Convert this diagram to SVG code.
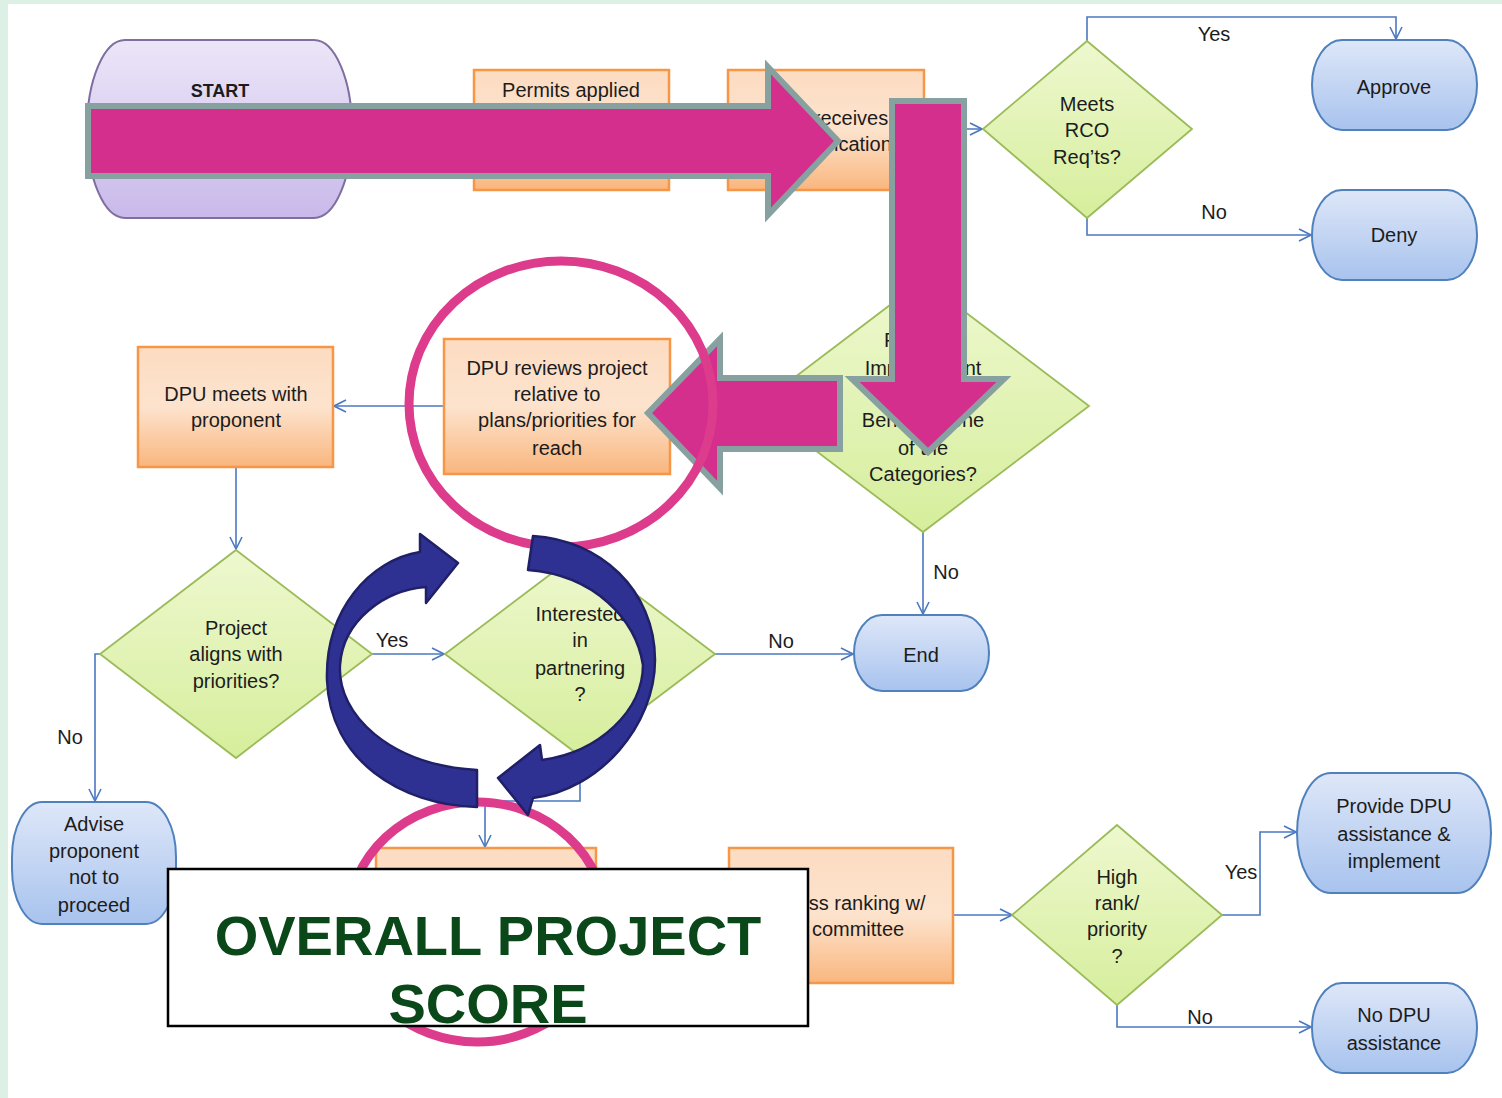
<svg xmlns="http://www.w3.org/2000/svg" width="1502" height="1098" viewBox="0 0 1502 1098">
  <defs>
    <linearGradient id="gOr" x1="0" y1="0" x2="0" y2="1">
      <stop offset="0" stop-color="#fcdcc2"/>
      <stop offset="0.5" stop-color="#fde3cd"/>
      <stop offset="1" stop-color="#f9b67e"/>
    </linearGradient>
    <linearGradient id="gGr" x1="0" y1="0" x2="0" y2="1">
      <stop offset="0" stop-color="#eef8cf"/>
      <stop offset="1" stop-color="#d6ee9c"/>
    </linearGradient>
    <linearGradient id="gBl" x1="0" y1="0" x2="0" y2="1">
      <stop offset="0" stop-color="#dee7f8"/>
      <stop offset="1" stop-color="#a8c3ee"/>
    </linearGradient>
    <linearGradient id="gLv" x1="0" y1="0" x2="0" y2="1">
      <stop offset="0" stop-color="#ece6f8"/>
      <stop offset="1" stop-color="#c9b9ea"/>
    </linearGradient>
    <marker id="arr" viewBox="0 0 14 14" refX="13" refY="7" markerWidth="14" markerHeight="14" markerUnits="userSpaceOnUse" orient="auto">
      <path d="M1,1 L13,7 L1,13" fill="none" stroke="#4a78c0" stroke-width="1.6"/>
    </marker>
  </defs>
  <style>
    .t{font-family:"Liberation Sans",Arial,sans-serif;font-size:20px;fill:#1c1c1c;text-anchor:middle}
    .box{fill:url(#gOr);stroke:#f79646;stroke-width:2.5}
    .dia{fill:url(#gGr);stroke:#9bbb59;stroke-width:1.8}
    .term{fill:url(#gBl);stroke:#4f81bd;stroke-width:2}
    .con{fill:none;stroke:#4a78c0;stroke-width:1.6}
    .pk{fill:#d42f8c;stroke:#87a1a1;stroke-width:6;stroke-linejoin:miter}
    .ring{fill:none;stroke:#dd3c8d;stroke-width:9}
    .cyc{fill:#2f3192;stroke:#1f2068;stroke-width:2.5;stroke-linejoin:round}
    .big{font-family:"Liberation Sans",Arial,sans-serif;font-weight:bold;font-size:56px;fill:#0a4719;text-anchor:middle}
  </style>

  <!-- page -->
  <rect x="0" y="0" width="1502" height="1098" fill="#ddf0e6"/>
  <rect x="8" y="4" width="1494" height="1094" fill="#ffffff"/>

  <!-- connectors -->
  <g id="connectors">
    <path class="con" d="M924,129 H982" marker-end="url(#arr)"/>
    <path class="con" d="M1087,42 V17 H1396 V39" marker-end="url(#arr)"/>
    <path class="con" d="M1087,218 V235 H1311" marker-end="url(#arr)"/>
    <path class="con" d="M923,532 V614" marker-end="url(#arr)"/>
    <path class="con" d="M444,406 H334" marker-end="url(#arr)"/>
    <path class="con" d="M236,467 V549" marker-end="url(#arr)"/>
    <path class="con" d="M100,654 H95 V801" marker-end="url(#arr)"/>
    <path class="con" d="M372,654 H444" marker-end="url(#arr)"/>
    <path class="con" d="M715,654 H853" marker-end="url(#arr)"/>
    <path class="con" d="M580,756 V801 H485 V847" marker-end="url(#arr)"/>
    <path class="con" d="M954,915 H1012" marker-end="url(#arr)"/>
    <path class="con" d="M1222,915 H1260 V832 H1296" marker-end="url(#arr)"/>
    <path class="con" d="M1117,1005 V1027 H1311" marker-end="url(#arr)"/>
    <text class="t" x="1214" y="41">Yes</text>
    <text class="t" x="1214" y="219">No</text>
    <text class="t" x="946" y="579">No</text>
    <text class="t" x="70" y="744">No</text>
    <text class="t" x="392" y="647">Yes</text>
    <text class="t" x="781" y="648">No</text>
    <text class="t" x="1241" y="879">Yes</text>
    <text class="t" x="1200" y="1024">No</text>
  </g>

  <!-- nodes -->
  <g id="start">
    <rect x="87" y="40" width="265" height="178" rx="38" ry="89" fill="url(#gLv)" stroke="#7f6e9f" stroke-width="2"/>
    <text class="t" x="220" y="97" style="font-weight:bold;font-size:18px">START</text>
  </g>
  <g id="permits">
    <rect class="box" x="474" y="70" width="195" height="120"/>
    <text class="t" x="571" y="97">Permits applied</text>
  </g>
  <g id="receives">
    <rect class="box" x="728" y="70" width="196" height="120"/>
    <text class="t" x="826" y="125">RCO receives</text>
    <text class="t" x="844" y="151">application</text>
  </g>
  <g id="meets-rco">
    <polygon class="dia" points="1087,41 1192,129 1087,218 983,129"/>
    <text class="t" x="1087" y="111">Meets</text>
    <text class="t" x="1087" y="137">RCO</text>
    <text class="t" x="1087" y="164">Req’ts?</text>
  </g>
  <g id="approve">
    <rect class="term" x="1312" y="40" width="165" height="90" rx="30" ry="45"/>
    <text class="t" x="1394" y="94">Approve</text>
  </g>
  <g id="deny">
    <rect class="term" x="1312" y="190" width="165" height="90" rx="30" ry="45"/>
    <text class="t" x="1394" y="242">Deny</text>
  </g>
  <g id="benefit">
    <polygon class="dia" points="923,280 1089,406 923,532 757,406"/>
    <text class="t" x="923" y="347">Provides</text>
    <text class="t" x="923" y="375">Improvement</text>
    <text class="t" x="923" y="401">or</text>
    <text class="t" x="923" y="427">Benefit in one</text>
    <text class="t" x="923" y="455">of the</text>
    <text class="t" x="923" y="481">Categories?</text>
  </g>
  <g id="end">
    <rect class="term" x="854" y="615" width="135" height="76" rx="28" ry="38"/>
    <text class="t" x="921" y="662">End</text>
  </g>
  <g id="dpu-reviews">
    <rect class="box" x="444" y="339" width="226" height="135"/>
    <text class="t" x="557" y="375">DPU reviews project</text>
    <text class="t" x="557" y="401">relative to</text>
    <text class="t" x="557" y="427">plans/priorities for</text>
    <text class="t" x="557" y="455">reach</text>
  </g>
  <g id="dpu-meets">
    <rect class="box" x="138" y="347" width="195" height="120"/>
    <text class="t" x="236" y="401">DPU meets with</text>
    <text class="t" x="236" y="427">proponent</text>
  </g>
  <g id="aligns">
    <polygon class="dia" points="236,550 372,654 236,758 100,654"/>
    <text class="t" x="236" y="635">Project</text>
    <text class="t" x="236" y="661">aligns with</text>
    <text class="t" x="236" y="688">priorities?</text>
  </g>
  <g id="interested">
    <polygon class="dia" points="580,552 715,654 580,756 445,654"/>
    <text class="t" x="580" y="621">Interested</text>
    <text class="t" x="580" y="647">in</text>
    <text class="t" x="580" y="675">partnering</text>
    <text class="t" x="580" y="701">?</text>
  </g>
  <g id="advise">
    <rect class="term" x="12" y="802" width="164" height="122" rx="30" ry="55"/>
    <text class="t" x="94" y="831">Advise</text>
    <text class="t" x="94" y="858">proponent</text>
    <text class="t" x="94" y="884">not to</text>
    <text class="t" x="94" y="912">proceed</text>
  </g>
  <g id="score-step">
    <rect class="box" x="376" y="848" width="220" height="135"/>
  </g>
  <g id="ranking">
    <rect class="box" x="729" y="848" width="224" height="135"/>
    <text class="t" x="841" y="910">Process ranking w/</text>
    <text class="t" x="858" y="936">committee</text>
  </g>
  <g id="high-rank">
    <polygon class="dia" points="1117,825 1222,915 1117,1005 1012,915"/>
    <text class="t" x="1117" y="884">High</text>
    <text class="t" x="1117" y="910">rank/</text>
    <text class="t" x="1117" y="936">priority</text>
    <text class="t" x="1117" y="963">?</text>
  </g>
  <g id="provide">
    <rect class="term" x="1297" y="773" width="194" height="120" rx="34" ry="60"/>
    <text class="t" x="1394" y="813">Provide DPU</text>
    <text class="t" x="1394" y="841">assistance &amp;</text>
    <text class="t" x="1394" y="868">implement</text>
  </g>
  <g id="no-dpu">
    <rect class="term" x="1312" y="983" width="165" height="90" rx="30" ry="45"/>
    <text class="t" x="1394" y="1022">No DPU</text>
    <text class="t" x="1394" y="1050">assistance</text>
  </g>

  <!-- highlight arrows -->
  <g id="flow-arrows">
    <path class="pk" d="M88,106 L768,106 L768,67 L838,141 L768,215 L768,176 L88,176 Z"/>
    <path class="pk" d="M892,101 L964,101 L964,379 L1004,379 L928,452 L852,379 L892,379 Z"/>
    <path class="pk" d="M840,378 L720,378 L720,339 L648,413 L720,488 L720,449 L840,449 Z"/>
  </g>

  <!-- highlight rings -->
  <g id="rings">
    <ellipse class="ring" cx="561" cy="404" rx="152" ry="143"/>
    <ellipse class="ring" cx="477" cy="922" rx="129" ry="120"/>
  </g>

  <!-- cycle arrows -->
  <g id="cycle">
    <path class="cyc" d="M420,534 L458,563 L426,603 L426,587 C385,590 343,620 340,665 C337,715 390,765 477,770 L477,807 C400,805 330,760 327,680 C325,610 370,560 420,552 Z"/>
    <path class="cyc" d="M533,536 C600,540 655,590 655,660 C655,725 600,790 533,798 L528,815 L498,778 L540,745 L542,760 C600,752 643,710 643,665 C636,620 595,575 528,570 Z"/>
  </g>

  <!-- score callout -->
  <g id="score-callout">
    <rect x="168" y="869" width="640" height="157" fill="#ffffff" stroke="#000000" stroke-width="2.5"/>
    <text class="big" x="488" y="955">OVERALL PROJECT</text>
    <text class="big" x="488" y="1023">SCORE</text>
  </g>
</svg>
